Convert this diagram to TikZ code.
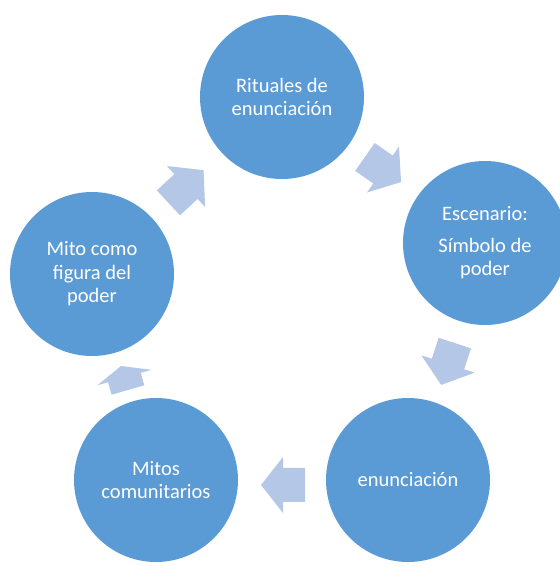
\documentclass[tikz,border=0pt]{standalone}
\usepackage{fontspec}
\setmainfont{Carlito}
\definecolor{circblue}{HTML}{5B9BD5}
\definecolor{arrblue}{HTML}{B4C7E7}
\newcommand{\blockarr}[5]{%
  \fill[arr, shift={(#1,#2)}, rotate=#3]
    ({-#4/2},-17) -- ({#4/2-#5},-17) -- ({#4/2-#5},-28) -- ({#4/2},0)
    -- ({#4/2-#5},28) -- ({#4/2-#5},17) -- ({-#4/2},17) -- cycle;}
\begin{document}
\begin{tikzpicture}[x=1pt,y=1pt,
  circ/.style={circle, fill=circblue, draw=none, minimum size=164pt, inner sep=0pt,
    text=white, align=center, font=\fontsize{20.5}{23.5}\selectfont},
  arr/.style={fill=arrblue}]
\useasboundingbox (0,0) rectangle (560,566);
\clip (0,0) rectangle (560,566);
\node[circ] (top) at (282,469) {Rituales de\\enunciación};
\node[circ] (right) at (485,323) {Escenario:\\[8pt]Símbolo de\\poder};
\node[circ] (br) at (408,86) {enunciación};
\node[circ] (bl) at (156,86) {Mitos\\comunitarios};
\node[circ] (left) at (92,292) {Mito como\\figura del\\poder};
\blockarr{383}{396.5}{-34.8}{44}{22}
\blockarr{448}{202}{-108}{44}{22}
\blockarr{283}{81}{180}{44}{22}
\blockarr{124.5}{188}{106}{25}{12}
\blockarr{186}{379.5}{43}{48}{24}
\end{tikzpicture}
\end{document}
